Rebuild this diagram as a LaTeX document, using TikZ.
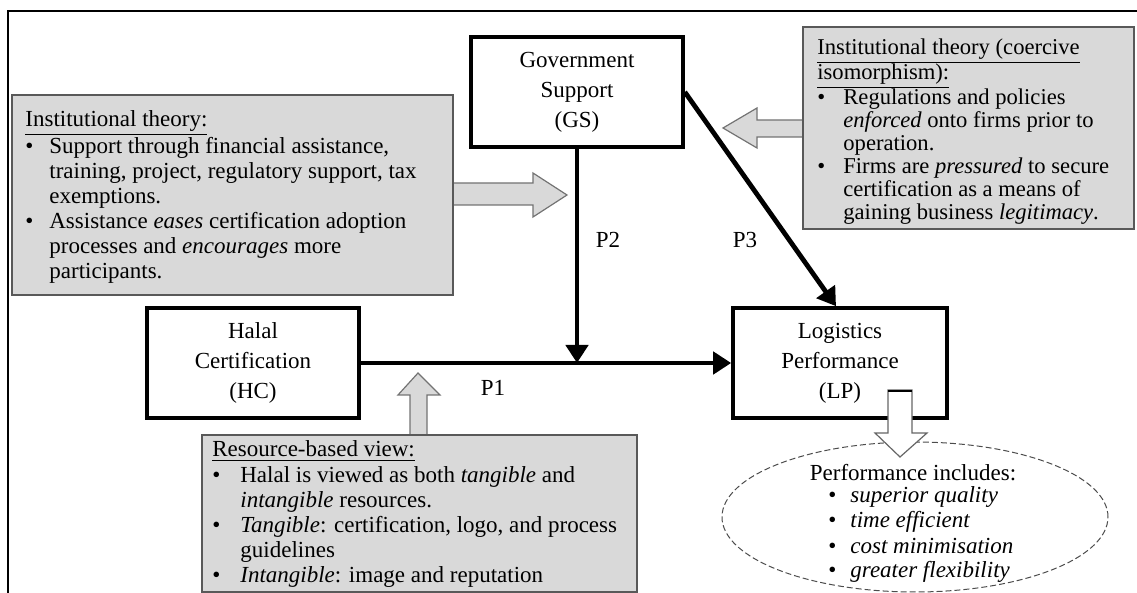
\documentclass[tikz,border=0pt]{standalone}
\usepackage{fontspec}
\setmainfont{Liberation Serif}
\usetikzlibrary{arrows.meta,shapes.geometric,fit}

\tikzset{
  mainbox/.style={draw, line width=1.8pt, minimum width=106pt, minimum height=55pt,
    align=center, inner sep=0pt, font=\fontsize{11.5}{15}\selectfont},
  infobox/.style={draw=black!65, fill=gray!30, line width=0.6pt, inner sep=0pt},
  infotext/.style={anchor=base west, inner sep=0pt, font=\fontsize{11.5}{12.5}\selectfont},
  linkarrow/.style={line width=2.4pt, -{Triangle[width=11pt,length=9pt]}},
  blockarr/.style={draw=black!55, fill=gray!30, line width=0.6pt},
  plabel/.style={inner sep=0pt, font=\fontsize{11.5}{12.5}\selectfont},
}

\begin{document}
\begin{tikzpicture}[x=0.5pt,y=-0.5pt]
\useasboundingbox (0,0) rectangle (1137,593);

% frame
\draw[line width=1pt] (8,593) -- (8,11) -- (1137,11);

% block arrows (drawn first, boxes sit on top)
\draw[blockarr] (453,183) -- (533,183) -- (533,173) -- (567,195) -- (533,217) -- (533,205) -- (453,205);
\draw[blockarr] (803,120) -- (757,120) -- (757,108) -- (723,128) -- (757,148) -- (757,137) -- (803,137);
\draw[blockarr] (410,435) -- (410,395) -- (398,395) -- (418,373) -- (440,395) -- (427,395) -- (427,435);

% theory boxes
\node[infobox, fit={(12,95) (453,295)}] (instbox) {};
\node[infobox, fit={(803,27) (1134,229)}] (coerbox) {};
\node[infobox, fit={(202,435) (637,592)}] (rbvbox) {};

\node[infotext] (insttext) at (25,127) {%
\begin{tabular}[t]{@{}p{12pt}@{}l@{}}
\multicolumn{2}{@{}l@{}}{\underline{Institutional theory:}}\\
\textbullet & Support through financial assistance,\\
 & training, project, regulatory support, tax\\
 & exemptions.\\
\textbullet & Assistance \textit{eases} certification adoption\\
 & processes and \textit{encourages} more\\
 & participants.
\end{tabular}};

\node[infotext, font=\fontsize{11.3}{11.45}\selectfont] (coertext) at (817,55) {%
\begin{tabular}[t]{@{}p{13pt}@{}l@{}}
\multicolumn{2}{@{}l@{}}{\underline{Institutional theory (coercive}}\\
\multicolumn{2}{@{}l@{}}{\underline{isomorphism):}}\\
\textbullet & Regulations and policies\\
 & \textit{enforced} onto firms prior to\\
 & operation.\\
\textbullet & Firms are \textit{pressured} to secure\\
 & certification as a means of\\
 & gaining business \textit{legitimacy}.
\end{tabular}};

\node[infotext, font=\fontsize{11.5}{12.6}\selectfont] (rbvtext) at (212,457) {%
\begin{tabular}[t]{@{}p{14pt}@{}l@{}}
\multicolumn{2}{@{}l@{}}{\underline{Resource-based view:}}\\
\textbullet & Halal is viewed as both \textit{tangible} and\\
 & \textit{intangible} resources.\\
\textbullet & \textit{Tangible}: certification, logo, and process\\
 & guidelines\\
\textbullet & \textit{Intangible}: image and reputation
\end{tabular}};

% constructs
\node[mainbox] (gs) at (577,92) {Government\\Support\\(GS)};
\node[mainbox] (hc) at (253,363) {Halal\\Certification\\(HC)};
\node[mainbox, minimum width=107pt] (lp) at (840,363) {Logistics\\Performance\\(LP)};

% paths
\coordinate (join) at (577,363);
\draw[linkarrow] (hc) -- (lp);
\draw[linkarrow] (gs) -- (join);
\draw[linkarrow] (gs.east) -- ([xshift=-2pt]lp.north);

\node[plabel] (p1) at (493,388) {P1};
\node[plabel] (p2) at (608,240) {P2};
\node[plabel] (p3) at (745,240) {P3};

% performance outcomes
\node[ellipse, draw=black!70, dashed, dash pattern=on 3pt off 1.5pt, line width=0.5pt,
  minimum width=193pt, minimum height=75pt] (perf) at (915,517) {};
\draw[draw=black!60, fill=white, line width=0.6pt] (888,390) -- (912,390) -- (912,433) -- (927,433)
  -- (900,457) -- (875,433) -- (888,433) -- cycle;
\draw[line width=1pt] (888,391) -- (912,391);

\node[plabel] (perfhead) at (913,473) {Performance includes:};
\node[infotext] (perftext) at (828,503) {%
\begin{tabular}[t]{@{}p{11pt}@{}l@{}}
\textbullet & \textit{superior quality}\\
\textbullet & \textit{time efficient}\\
\textbullet & \textit{cost minimisation}\\
\textbullet & \textit{greater flexibility}
\end{tabular}};
\end{tikzpicture}
\end{document}
